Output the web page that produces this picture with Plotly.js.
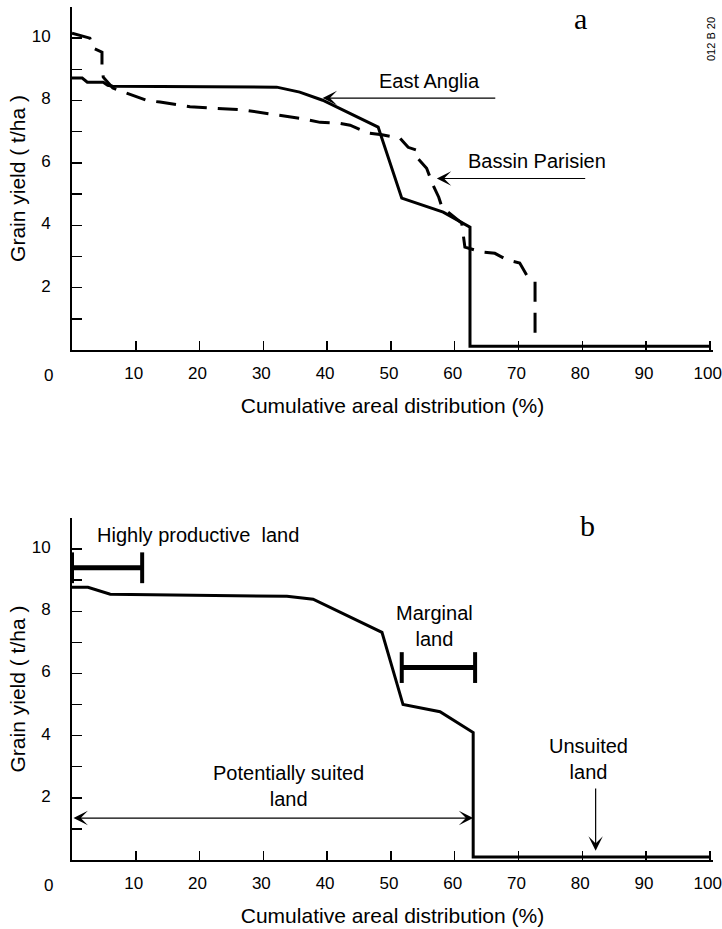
<!DOCTYPE html>
<html>
<head>
<meta charset="utf-8">
<script src="https://cdn.plot.ly/plotly-3.0.1.min.js"></script>
<style>html,body{margin:0;padding:0;background:#fff;}#chart{width:722px;height:929px;}</style>
</head>
<body>
<div id="chart"></div>
<script>
// ---------- data ----------
const xTickVals = [10, 20, 30, 40, 50, 60, 70, 80, 90, 100];
const xTickText = ["10", "20", "30", "40", "50", "60", "70", "80", "90", "100"];
const yTickVals = [1, 2, 3, 4, 5, 6, 7, 8, 9, 10, 11];
const yTickText = ["", "2", "", "4", "", "6", "", "8", "", "10", ""];

// panel a : East Anglia (solid)
const eastAngliaAX = [0, 1.6, 2.4, 4.9, 5.6, 6.4, 32.1, 35.7, 39.3, 48.0, 51.7, 58.2, 62.4, 62.4, 100];
const eastAngliaAY = [8.72, 8.72, 8.59, 8.59, 8.49, 8.46, 8.43, 8.27, 8.01, 7.15, 4.87, 4.42, 3.94, 0.12, 0.12];

// panel a : Bassin Parisien (dashed)
const bassinX = [0, 2.8, 3.3, 4.7, 4.7, 4.9, 6.4, 8.6, 11.8, 13.8, 18.5, 26.8, 32.1, 35.7, 38.9, 42.0, 43.6, 46.4, 48.6, 51.4, 52.7, 54.2, 54.2, 55.6, 56.6, 57.5, 58.0, 61.1, 61.6, 64.3, 66.3, 68.3, 70.2, 71.3, 72.6, 72.6];
const bassinY = [10.16, 10.0, 9.68, 9.55, 9.13, 8.75, 8.4, 8.24, 8.0, 7.95, 7.8, 7.7, 7.53, 7.43, 7.3, 7.27, 7.21, 6.96, 6.9, 6.8, 6.5, 6.4, 6.15, 5.83, 5.29, 4.9, 4.58, 4.07, 3.3, 3.14, 3.1, 2.88, 2.79, 2.4, 2.2, 0.3];

// panel b : East Anglia (solid)
const eastAngliaBX = [0, 2.5, 6.0, 33.7, 37.8, 48.6, 51.9, 57.7, 62.9, 62.9, 100];
const eastAngliaBY = [8.77, 8.77, 8.55, 8.48, 8.39, 7.32, 5.0, 4.77, 4.1, 0.1, 0.1];

// panel b : land-class ranges
const highlyX = [0, 11];
const highlyY = [9.4, 9.4];
const marginalX = [51.7, 63.2];
const marginalY = [6.19, 6.19];

// ---------- styling ----------
const FONT = "Liberation Sans, Arial, Helvetica, sans-serif";
const SERIF = "Liberation Serif, Times New Roman, serif";

const traces = [
  {x: eastAngliaAX, y: eastAngliaAY, xaxis: "x", yaxis: "y", mode: "lines", name: "East Anglia",
   line: {color: "#000", width: 3}, cliponaxis: false},
  {x: bassinX, y: bassinY, xaxis: "x", yaxis: "y", mode: "lines", name: "Bassin Parisien",
   line: {color: "#000", width: 3, dash: "20px,11px"}, cliponaxis: false},
  {x: eastAngliaBX, y: eastAngliaBY, xaxis: "x2", yaxis: "y2", mode: "lines", name: "East Anglia",
   line: {color: "#000", width: 3}, cliponaxis: false},
  {x: highlyX, y: highlyY, xaxis: "x2", yaxis: "y2", mode: "lines+markers", name: "Highly productive land",
   line: {color: "#000", width: 5},
   marker: {symbol: "line-ns", size: 22, color: "#000", line: {color: "#000", width: 4}}, cliponaxis: false},
  {x: marginalX, y: marginalY, xaxis: "x2", yaxis: "y2", mode: "lines+markers", name: "Marginal land",
   line: {color: "#000", width: 5},
   marker: {symbol: "line-ns", size: 22, color: "#000", line: {color: "#000", width: 4}}, cliponaxis: false}
];

function xAxis(anchor) {
  return {
    anchor: anchor, domain: [0, 1], range: [0, 100.5],
    showline: true, linecolor: "#000", linewidth: 2,
    showgrid: false, zeroline: false,
    ticks: "inside", ticklen: 9, tickwidth: 1.5, tickcolor: "#000",
    tickmode: "array", tickvals: xTickVals, ticktext: xTickText,
    tickfont: {family: FONT, size: 17, color: "#000"},
    ticklabelstandoff: 7, ticklabelshift: -2, ticklabeloverflow: "allow",
    title: {text: "Cumulative areal distribution (%)", font: {family: FONT, size: 21, color: "#000"}, standoff: 16}
  };
}
function yAxis(anchor, domain) {
  return {
    anchor: anchor, domain: domain, range: [0, 11],
    showline: true, linecolor: "#000", linewidth: 2,
    showgrid: false, zeroline: false,
    ticks: "inside", ticklen: 10, tickwidth: 1.5, tickcolor: "#000",
    tickmode: "array", tickvals: yTickVals, ticktext: yTickText,
    tickfont: {family: FONT, size: 17, color: "#000"},
    ticklabelstandoff: 16, ticklabelshift: -2,
    title: {text: "Grain yield ( t/ha )", font: {family: FONT, size: 21, color: "#000"}, standoff: 0}
  };
}

const txt = (size) => ({family: FONT, size: size, color: "#000"});
const c = {xanchor: "center", yanchor: "middle", showarrow: false};

const annotations = [
  // zero labels
  Object.assign({xref: "paper", yref: "y domain", x: -0.036, y: -0.075, text: "0", font: txt(17)}, c),
  Object.assign({xref: "paper", yref: "y2 domain", x: -0.036, y: -0.075, text: "0", font: txt(17)}, c),
  // panel letters
  Object.assign({xref: "paper", yref: "paper", x: 0.793, y: 0.987, text: "a", font: {family: SERIF, size: 30, color: "#000"}}, c),
  Object.assign({xref: "paper", yref: "paper", x: 0.804, y: 0.392, text: "b", font: {family: SERIF, size: 30, color: "#000"}}, c),
  Object.assign({xref: "paper", yref: "paper", x: 0.996, y: 0.963, text: "012 B 20", textangle: -90, font: txt(11)}, c),
  // panel a labels
  Object.assign({xref: "x", yref: "y", x: 56.1, y: 8.62, text: "East Anglia", font: txt(20)}, c),
  {xref: "x", yref: "y", x: 39.3, y: 8.08, axref: "x", ayref: "y", ax: 66.6, ay: 8.08, text: "",
   showarrow: true, arrowhead: 3, arrowsize: 2, arrowwidth: 1.2, arrowcolor: "#000"},
  Object.assign({xref: "x", yref: "y", x: 72.9, y: 6.06, text: "Bassin Parisien", font: txt(20)}, c),
  {xref: "x", yref: "y", x: 57.2, y: 5.5, axref: "x", ayref: "y", ax: 80.7, ay: 5.5, text: "",
   showarrow: true, arrowhead: 3, arrowsize: 2, arrowwidth: 1.2, arrowcolor: "#000"},
  // panel b labels
  Object.assign({xref: "x2", yref: "y2", x: 19.8, y: 10.45, text: "Highly productive\u00a0 land", font: txt(20)}, c),
  Object.assign({xref: "x2", yref: "y2", x: 56.9, y: 7.52, text: "Marginal<br>land", font: txt(20)}, c),
  Object.assign({xref: "x2", yref: "y2", x: 81.0, y: 3.26, text: "Unsuited<br>land", font: txt(20)}, c),
  {xref: "x2", yref: "y2", x: 82.1, y: 0.3, axref: "x2", ayref: "y2", ax: 82.1, ay: 2.35, text: "",
   showarrow: true, arrowhead: 3, arrowsize: 2, arrowwidth: 1.2, arrowcolor: "#000"},
  Object.assign({xref: "x2", yref: "y2", x: 34.0, y: 2.39, text: "Potentially suited<br>land", font: txt(20)}, c),
  {xref: "x2", yref: "y2", x: 62.9, y: 1.35, axref: "x2", ayref: "y2", ax: 0, ay: 1.35, text: "",
   showarrow: true, arrowside: "end+start", arrowhead: 3, startarrowhead: 3, arrowsize: 2, startarrowsize: 2,
   arrowwidth: 1.2, arrowcolor: "#000"}
];

const layout = {
  width: 722, height: 929,
  margin: {l: 72, r: 9, t: 7, b: 69},
  paper_bgcolor: "#fff", plot_bgcolor: "#fff",
  showlegend: false,
  font: {family: FONT, color: "#000"},
  xaxis: xAxis("y"),
  yaxis: yAxis("x", [0.5979, 1]),
  xaxis2: xAxis("y2"),
  yaxis2: yAxis("x2", [0, 0.4009]),
  annotations: annotations
};

Plotly.newPlot("chart", traces, layout, {displayModeBar: false, staticPlot: true});
</script>
</body>
</html>
